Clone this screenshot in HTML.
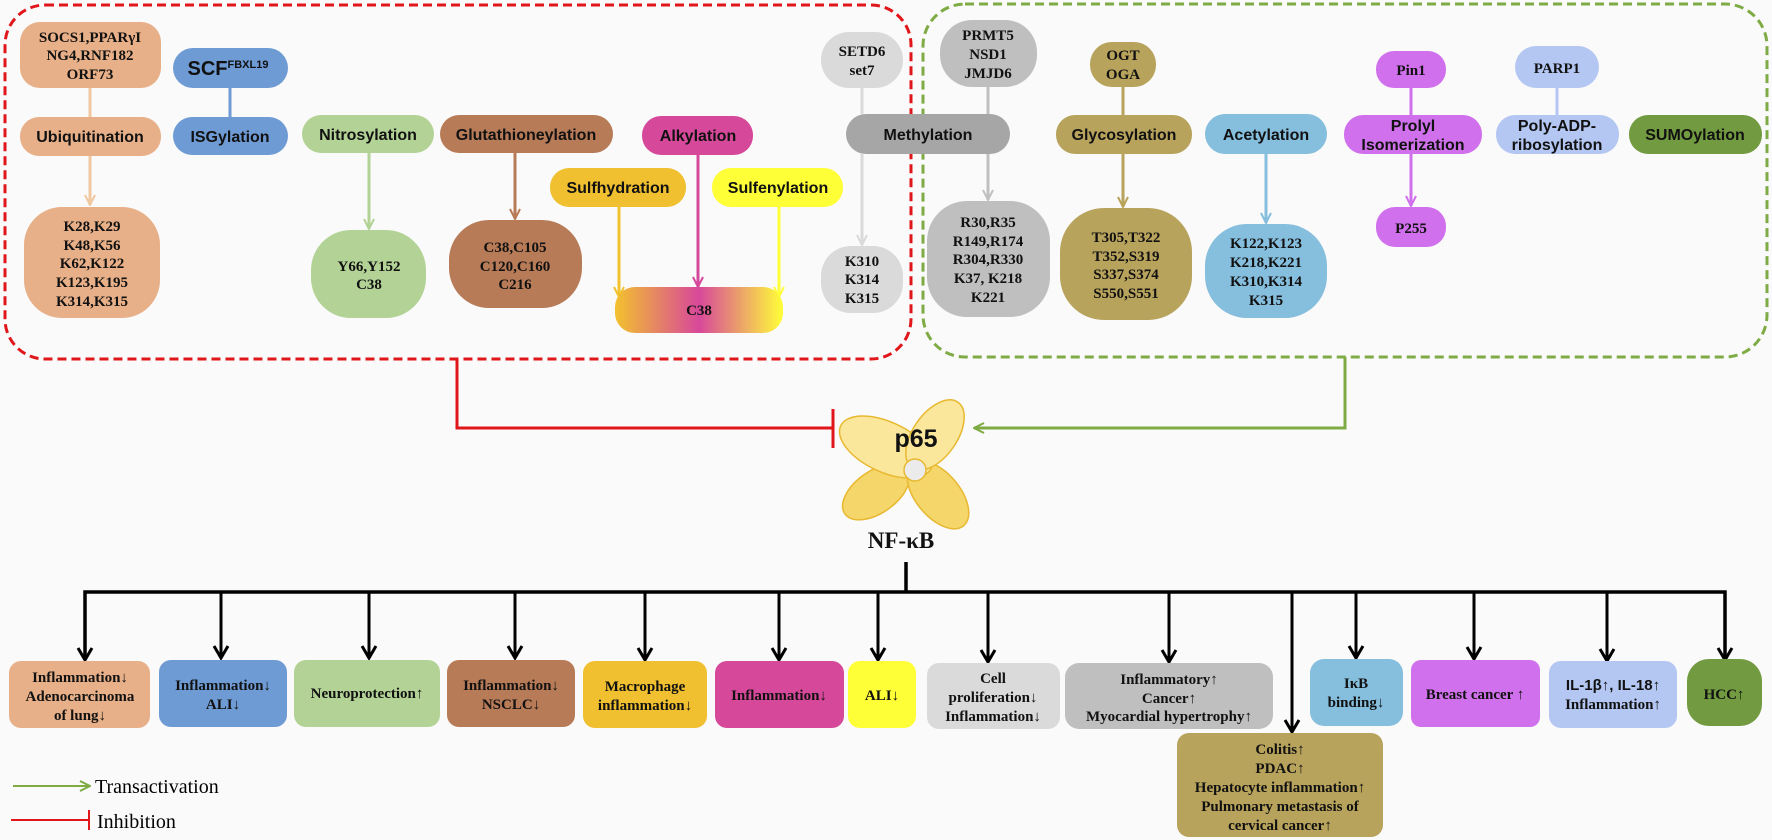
<!DOCTYPE html>
<html><head><meta charset="utf-8"><style>
html,body{margin:0;padding:0;background:#fafafa}
svg{display:block}
.a{font-family:"Liberation Sans",sans-serif;font-weight:bold;font-size:16px;text-anchor:middle;fill:#111}
.t{font-family:"Liberation Serif",serif;font-weight:bold;font-size:15px;text-anchor:middle;fill:#111}
</style></head><body>
<svg width="1772" height="840" viewBox="0 0 1772 840" xmlns="http://www.w3.org/2000/svg">
<defs>
<linearGradient id="g" x1="0" x2="1" y1="0" y2="0">
<stop offset="0" stop-color="#f2c12e"/><stop offset="0.5" stop-color="#d8489a"/><stop offset="1" stop-color="#ffff38"/>
</linearGradient>
<marker id="ar" viewBox="0 0 12 12" refX="11" refY="6" markerWidth="12" markerHeight="12" markerUnits="userSpaceOnUse" orient="auto"><path d="M1,1 L11,6 L1,11" fill="none" stroke="context-stroke" stroke-width="2"/></marker>
</defs>
<rect width="1772" height="840" fill="#fafafa"/>
<rect x="5" y="5" width="906" height="354" rx="40" fill="none" stroke="#e0161b" stroke-width="3" stroke-dasharray="9,5"/>
<rect x="923" y="4" width="844" height="353" rx="42" fill="none" stroke="#7fab45" stroke-width="3" stroke-dasharray="9,5"/>

<g stroke-width="3" fill="none">
<line x1="90" y1="88" x2="90" y2="117" stroke="#f0c8a0"/>
<line x1="90" y1="156" x2="90" y2="205" stroke="#f0c8a0" marker-end="url(#ar)"/>
<line x1="230" y1="88" x2="230" y2="117" stroke="#6e9bd4"/>
<line x1="369" y1="153" x2="369" y2="229" stroke="#b3d396" marker-end="url(#ar)"/>
<line x1="515" y1="153" x2="515" y2="219" stroke="#b87b58" marker-end="url(#ar)"/>
<line x1="698" y1="155" x2="698" y2="287" stroke="#d6489a" marker-end="url(#ar)"/>
<line x1="619" y1="207" x2="619" y2="297" stroke="#f2c12e" marker-end="url(#ar)"/>
<line x1="779" y1="207" x2="779" y2="297" stroke="#ffff38" marker-end="url(#ar)"/>
<line x1="862" y1="88" x2="862" y2="114" stroke="#dadada"/>
<line x1="862" y1="154" x2="862" y2="245" stroke="#dadada" marker-end="url(#ar)"/>
<line x1="988" y1="87" x2="988" y2="114" stroke="#c0c0c0"/>
<line x1="988" y1="154" x2="988" y2="200" stroke="#c0c0c0" marker-end="url(#ar)"/>
<line x1="1123" y1="87" x2="1123" y2="115" stroke="#b8a35c"/>
<line x1="1123" y1="154" x2="1123" y2="207" stroke="#b8a35c" marker-end="url(#ar)"/>
<line x1="1266" y1="154" x2="1266" y2="223" stroke="#86bedd" marker-end="url(#ar)"/>
<line x1="1411" y1="88" x2="1411" y2="115" stroke="#d070ec"/>
<line x1="1411" y1="154" x2="1411" y2="206" stroke="#d070ec" marker-end="url(#ar)"/>
<line x1="1557" y1="88" x2="1557" y2="115" stroke="#b4c7f2"/>
</g>

<rect x="20" y="22" width="141" height="66" rx="20" fill="#e8b088"/>
<text class="t" x="90" y="42">SOCS1,PPARγI</text><text class="t" x="90" y="60">NG4,RNF182</text><text class="t" x="90" y="79">ORF73</text>
<rect x="20" y="117" width="141" height="39" rx="19" fill="#e8b088"/><text class="a" x="90" y="142">Ubiquitination</text>
<rect x="24" y="207" width="136" height="111" rx="38" fill="#e8b088"/>
<text class="t" x="92" y="231">K28,K29</text><text class="t" x="92" y="250">K48,K56</text><text class="t" x="92" y="268">K62,K122</text><text class="t" x="92" y="287">K123,K195</text><text class="t" x="92" y="306">K314,K315</text>
<rect x="173" y="48" width="115" height="40" rx="20" fill="#6e9bd4"/>
<text class="a" x="228" y="75" style="font-size:20px">SCF<tspan font-size="11" dy="-7">FBXL19</tspan></text>
<rect x="173" y="117" width="115" height="38" rx="19" fill="#6e9bd4"/><text class="a" x="230" y="142">ISGylation</text>
<rect x="302" y="115" width="132" height="38" rx="19" fill="#b3d396"/><text class="a" x="368" y="140">Nitrosylation</text>
<rect x="311" y="230" width="115" height="88" rx="40" fill="#b3d396"/>
<text class="t" x="369" y="271">Y66,Y152</text><text class="t" x="369" y="289">C38</text>
<rect x="440" y="115" width="173" height="38" rx="19" fill="#b87b58"/><text class="a" x="526" y="140">Glutathioneylation</text>
<rect x="449" y="220" width="133" height="88" rx="40" fill="#b87b58"/>
<text class="t" x="515" y="252">C38,C105</text><text class="t" x="515" y="271">C120,C160</text><text class="t" x="515" y="289">C216</text>
<rect x="642" y="116" width="111" height="39" rx="19" fill="#d6489a"/><text class="a" x="698" y="141">Alkylation</text>
<rect x="550" y="168" width="136" height="39" rx="19" fill="#f0c030"/><text class="a" x="618" y="193">Sulfhydration</text>
<rect x="712" y="168" width="131" height="39" rx="19" fill="#ffff38"/><text class="a" x="778" y="193">Sulfenylation</text>
<rect x="615" y="287" width="168" height="46" rx="20" fill="url(#g)"/><text class="t" x="699" y="315">C38</text>
<rect x="821" y="32" width="82" height="56" rx="28" fill="#dadada"/>
<text class="t" x="862" y="56">SETD6</text><text class="t" x="862" y="75">set7</text>
<rect x="846" y="114" width="164" height="40" rx="20" fill="#a6a6a6"/><text class="a" x="928" y="140">Methylation</text>
<rect x="821" y="246" width="82" height="67" rx="30" fill="#dadada"/>
<text class="t" x="862" y="266">K310</text><text class="t" x="862" y="284">K314</text><text class="t" x="862" y="303">K315</text>
<rect x="940" y="20" width="97" height="67" rx="32" fill="#bfbfbf"/>
<text class="t" x="988" y="40">PRMT5</text><text class="t" x="988" y="59">NSD1</text><text class="t" x="988" y="78">JMJD6</text>
<rect x="927" y="201" width="123" height="116" rx="40" fill="#bfbfbf"/>
<text class="t" x="988" y="227">R30,R35</text><text class="t" x="988" y="246">R149,R174</text><text class="t" x="988" y="264">R304,R330</text><text class="t" x="988" y="283">K37, K218</text><text class="t" x="988" y="302">K221</text>
<rect x="1090" y="42" width="66" height="45" rx="22" fill="#b8a35c"/>
<text class="t" x="1123" y="60">OGT</text><text class="t" x="1123" y="79">OGA</text>
<rect x="1056" y="115" width="136" height="39" rx="19" fill="#b8a35c"/><text class="a" x="1124" y="140">Glycosylation</text>
<rect x="1060" y="208" width="132" height="112" rx="44" fill="#b8a35c"/>
<text class="t" x="1126" y="242">T305,T322</text><text class="t" x="1126" y="261">T352,S319</text><text class="t" x="1126" y="279">S337,S374</text><text class="t" x="1126" y="298">S550,S551</text>
<rect x="1205" y="114" width="122" height="40" rx="20" fill="#86bedd"/><text class="a" x="1266" y="140">Acetylation</text>
<rect x="1205" y="224" width="122" height="94" rx="42" fill="#86bedd"/>
<text class="t" x="1266" y="248">K122,K123</text><text class="t" x="1266" y="267">K218,K221</text><text class="t" x="1266" y="286">K310,K314</text><text class="t" x="1266" y="305">K315</text>
<rect x="1376" y="51" width="70" height="37" rx="18" fill="#d070ec"/><text class="t" x="1411" y="75">Pin1</text>
<rect x="1344" y="115" width="138" height="39" rx="19" fill="#d070ec"/>
<text class="a" x="1413" y="131">Prolyl</text><text class="a" x="1413" y="150">Isomerization</text>
<rect x="1376" y="207" width="70" height="40" rx="19" fill="#d070ec"/><text class="t" x="1411" y="233">P255</text>
<rect x="1515" y="46" width="84" height="42" rx="21" fill="#b4c7f2"/><text class="t" x="1557" y="73">PARP1</text>
<rect x="1496" y="115" width="123" height="39" rx="19" fill="#b4c7f2"/>
<text class="a" x="1557" y="131">Poly-ADP-</text><text class="a" x="1557" y="150">ribosylation</text>
<rect x="1629" y="115" width="133" height="39" rx="19" fill="#729a40"/><text class="a" x="1695" y="140">SUMOylation</text>

<polyline points="457,359 457,428 833,428" fill="none" stroke="#e0161b" stroke-width="3"/>
<line x1="833" y1="409" x2="833" y2="448" stroke="#e0161b" stroke-width="3"/>
<polyline points="1345,357 1345,428 974,428" fill="none" stroke="#7fab45" stroke-width="3" marker-end="url(#ar)"/>

<g stroke="#e8b830" stroke-width="1.5">
<ellipse cx="876" cy="492" rx="38" ry="21" transform="rotate(-35 876 492)" fill="#f5d66a"/>
<ellipse cx="938" cy="495" rx="40" ry="22" transform="rotate(50 938 495)" fill="#f5d66a"/>
<ellipse cx="886" cy="447" rx="50" ry="25" transform="rotate(25 886 447)" fill="#fae79c"/>
<ellipse cx="935" cy="435" rx="40" ry="22" transform="rotate(-55 935 435)" fill="#fae79c"/>
<circle cx="915" cy="470" r="11" fill="#ebebeb"/>
</g>
<text class="a" x="916" y="447" style="font-size:25px">p65</text>
<text class="t" x="901" y="548" style="font-size:23px">NF-κB</text>

<g stroke="#000" stroke-width="3.5" fill="none">
<line x1="906" y1="562" x2="906" y2="592"/>
<polyline points="85,660 85,592 1725,592 1725,660"/>
</g>
<g stroke="#000" stroke-width="3" fill="none">
<path d="M78,648 L85,660 L92,648"/>
<line x1="221" y1="592" x2="221" y2="658"/><path d="M214,646 L221,658 L228,646"/>
<line x1="369" y1="592" x2="369" y2="658"/><path d="M362,646 L369,658 L376,646"/>
<line x1="515" y1="592" x2="515" y2="658"/><path d="M508,646 L515,658 L522,646"/>
<line x1="645" y1="592" x2="645" y2="660"/><path d="M638,648 L645,660 L652,648"/>
<line x1="779" y1="592" x2="779" y2="660"/><path d="M772,648 L779,660 L786,648"/>
<line x1="878" y1="592" x2="878" y2="660"/><path d="M871,648 L878,660 L885,648"/>
<line x1="988" y1="592" x2="988" y2="662"/><path d="M981,650 L988,662 L995,650"/>
<line x1="1169" y1="592" x2="1169" y2="662"/><path d="M1162,650 L1169,662 L1176,650"/>
<line x1="1292" y1="592" x2="1292" y2="732"/><path d="M1285,720 L1292,732 L1299,720"/>
<line x1="1356" y1="592" x2="1356" y2="658"/><path d="M1349,646 L1356,658 L1363,646"/>
<line x1="1474" y1="592" x2="1474" y2="659"/><path d="M1467,647 L1474,659 L1481,647"/>
<line x1="1607" y1="592" x2="1607" y2="661"/><path d="M1600,649 L1607,661 L1614,649"/>
<path d="M1718,648 L1725,660 L1732,648"/>
</g>

<rect x="9" y="661" width="141" height="67" rx="12" fill="#e8b088"/>
<text class="t" x="80" y="682">Inflammation↓</text><text class="t" x="80" y="701">Adenocarcinoma</text><text class="t" x="80" y="720">of lung↓</text>
<rect x="159" y="660" width="128" height="67" rx="12" fill="#6e9bd4"/>
<text class="t" x="223" y="690">Inflammation↓</text><text class="t" x="223" y="709">ALI↓</text>
<rect x="294" y="660" width="146" height="67" rx="12" fill="#b3d396"/><text class="t" x="367" y="698">Neuroprotection↑</text>
<rect x="447" y="660" width="128" height="67" rx="12" fill="#b87b58"/>
<text class="t" x="511" y="690">Inflammation↓</text><text class="t" x="511" y="709">NSCLC↓</text>
<rect x="583" y="661" width="124" height="67" rx="12" fill="#f0c030"/>
<text class="t" x="645" y="691">Macrophage</text><text class="t" x="645" y="710">inflammation↓</text>
<rect x="715" y="661" width="129" height="67" rx="12" fill="#d6489a"/><text class="t" x="779" y="700">Inflammation↓</text>
<rect x="848" y="661" width="68" height="67" rx="12" fill="#ffff38"/><text class="t" x="882" y="700">ALI↓</text>
<rect x="927" y="663" width="133" height="66" rx="12" fill="#dadada"/>
<text class="t" x="993" y="683">Cell</text><text class="t" x="993" y="702">proliferation↓</text><text class="t" x="993" y="721">Inflammation↓</text>
<rect x="1065" y="663" width="208" height="66" rx="14" fill="#bfbfbf"/>
<text class="t" x="1169" y="684">Inflammatory↑</text><text class="t" x="1169" y="703">Cancer↑</text><text class="t" x="1169" y="721">Myocardial hypertrophy↑</text>
<rect x="1177" y="733" width="206" height="104" rx="12" fill="#b8a35c"/>
<text class="t" x="1280" y="754">Colitis↑</text><text class="t" x="1280" y="773">PDAC↑</text><text class="t" x="1280" y="792">Hepatocyte inflammation↑</text><text class="t" x="1280" y="811">Pulmonary metastasis of</text><text class="t" x="1280" y="830">cervical cancer↑</text>
<rect x="1310" y="659" width="93" height="67" rx="14" fill="#86bedd"/>
<text class="t" x="1356" y="688">IκB</text><text class="t" x="1356" y="707">binding↓</text>
<rect x="1411" y="660" width="129" height="67" rx="10" fill="#d070ec"/><text class="t" x="1475" y="699">Breast cancer ↑</text>
<rect x="1549" y="661" width="128" height="67" rx="12" fill="#b4c7f2"/>
<text class="a" x="1613" y="690" style="font-size:15px">IL-1β↑, IL-18↑</text><text class="t" x="1613" y="709">Inflammation↑</text>
<rect x="1687" y="659" width="75" height="67" rx="22" fill="#729a40"/><text class="t" x="1724" y="699">HCC↑</text>

<line x1="13" y1="786" x2="90" y2="786" stroke="#7fab45" stroke-width="2" marker-end="url(#ar)"/>
<text x="95" y="793" style="font-family:'Liberation Serif',serif;font-size:20px">Transactivation</text>
<line x1="11" y1="820" x2="89" y2="820" stroke="#e0161b" stroke-width="2"/>
<line x1="89" y1="810" x2="89" y2="830" stroke="#e0161b" stroke-width="2"/>
<text x="97" y="828" style="font-family:'Liberation Serif',serif;font-size:20px">Inhibition</text>
</svg>
</body></html>
